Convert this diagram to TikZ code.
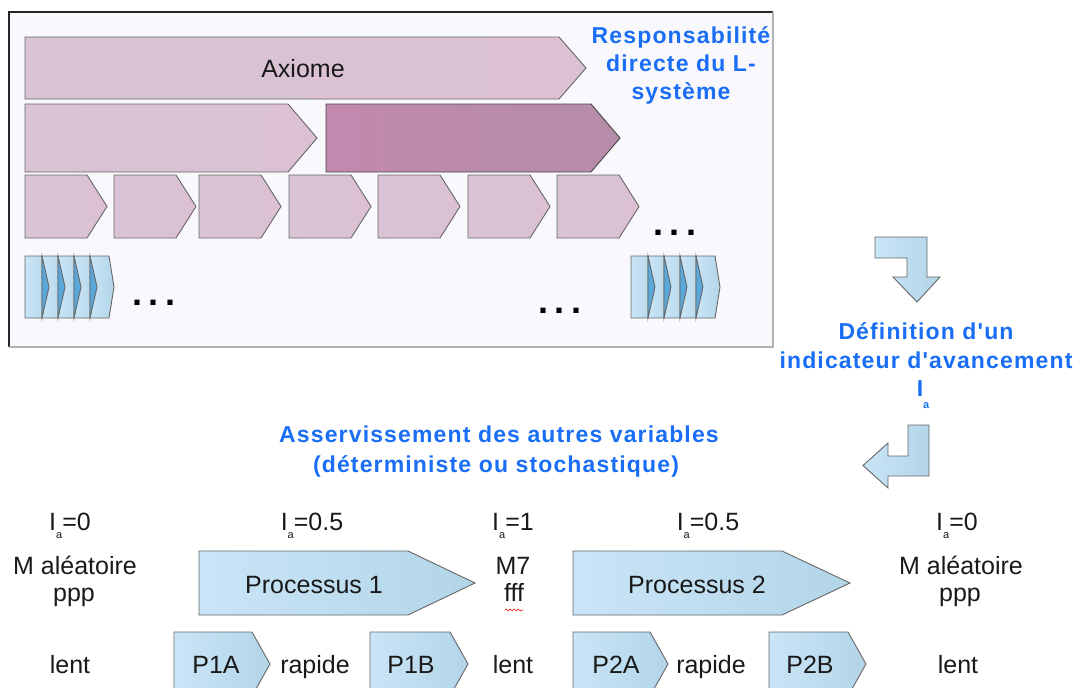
\documentclass[tikz,border=0pt]{standalone}
\usepackage{fontspec}
\setmainfont{Liberation Sans}
\newfontfamily\bluefont[LetterSpace=5]{Liberation Sans}
\usetikzlibrary{decorations.pathmorphing}

\definecolor{mauve}{HTML}{D9C3D5}
\definecolor{mauveR}{HTML}{DCC0D4}
\definecolor{dmauveL}{HTML}{C189AD}
\definecolor{dmauveR}{HTML}{B58CA9}
\definecolor{blueL}{HTML}{C9E5F7}
\definecolor{blueR}{HTML}{B3D5E8}
\definecolor{blueDark}{HTML}{5AA8DA}
\definecolor{txtblue}{RGB}{25,110,245}
\definecolor{edge}{HTML}{666666}
\definecolor{boxfill}{HTML}{F9F9FD}

\tikzset{
  mauvebox/.style={draw=edge, line width=0.9pt, left color=mauve, right color=mauveR},
  darkbox/.style={draw=edge!70!black, line width=0.9pt, left color=dmauveL, right color=dmauveR},
  bluebox/.style={draw=edge, line width=0.9pt, left color=blueL, right color=blueR},
  darktri/.style={draw=edge, line width=0.9pt, fill=blueDark},
  bluetxt/.style={text=txtblue, font=\fontsize{23}{28}\selectfont\bluefont\bfseries, inner sep=0pt, anchor=base},
  blacktxt/.style={text=black!90, font=\fontsize{25}{28}\selectfont, inner sep=0pt, anchor=base},
  dotstxt/.style={font=\fontsize{36}{36}\selectfont\bfseries, inner sep=0pt, anchor=base},
}

% chevron: [style]{left}{top}{bottom}{straight end}{tip}
\newcommand\mychev[6][mauvebox]{\path[#1] (#2,#3) -- (#5,#3) -- (#6,{(#3+#4)/2}) -- (#5,#4) -- (#2,#4) -- cycle;}
\newcommand\bluegroup[1]{%
  \begin{scope}[xshift=#1pt]
    \foreach \s/\e/\t in {0/17/24, 17/33/40, 33/49/56, 49/65/72} {\mychev[bluebox]{\s}{256}{318}{\e}{\t}}
    \mychev[bluebox]{65}{256}{318}{84}{89}
    \foreach \s in {17,33,49,65} {\path[darktri] (\s,256) -- (\s+7,287) -- (\s,318) -- cycle;}
  \end{scope}}
\newcommand\Ia{I\raisebox{-8pt}{\fontsize{11}{11}\selectfont a}}

\begin{document}
\begin{tikzpicture}[x=1pt,y=-1pt]
\useasboundingbox (0,0) rectangle (1085,688);

% top frame
\fill[boxfill] (9,12) rectangle (773,347);
\draw[black!85, line width=1.2pt] (9,347) -- (9,12) -- (773,12);
\draw[black!30, line width=1.2pt] (773,12) -- (773,347) -- (9,347);

% row 1 : axiome
\mychev{25}{37}{99}{559}{586}
\node[blacktxt] (axiome) at (303,77) {Axiome};

% row 2
\mychev{25}{104}{172}{288}{317}
\mychev[darkbox]{326}{104}{172}{591}{620}

% row 3
\foreach \x in {25,114,199,289,378,468,557} {\mychev{\x}{175}{238}{\x+62}{\x+82}}
\node[dotstxt] (dotsA) at (675,235) {.\hspace{6.5pt}.\hspace{6.5pt}.};

% row 4
\bluegroup{25}
\bluegroup{631}
\node[dotstxt] (dotsB) at (154,305) {.\hspace{6.5pt}.\hspace{6.5pt}.};
\node[dotstxt] (dotsC) at (560,313) {.\hspace{6.5pt}.\hspace{6.5pt}.};

% blue labels
\node[bluetxt] (resp1) at (681,43) {Responsabilité};
\node[bluetxt] (resp2) at (681,71) {directe du L-};
\node[bluetxt] (resp3) at (681,99) {système};

\node[bluetxt] (def1) at (926,339) {Définition d'un};
\node[bluetxt] (def2) at (926,368) {indicateur d'avancement};
\node[bluetxt] (def3) at (923,396) {I\raisebox{-12pt}{\fontsize{11}{11}\selectfont a}};

\node[bluetxt] (ass1) at (499,442) {Asservissement des autres variables};
\node[bluetxt] (ass2) at (496,472) {(déterministe ou stochastique)};

% bent arrows
\path[bluebox] (875,237) -- (927,237) -- (927,277) -- (940,277) -- (917,302) -- (893,277) -- (907,277) -- (907,258) -- (875,258) -- cycle;
\path[bluebox] (908,425) -- (929,425) -- (929,476) -- (888,476) -- (888,488) -- (863,465.5) -- (888,443) -- (888,456) -- (908,456) -- cycle;

% bottom: indicators
\node[blacktxt] (ia1) at (70,530) {\Ia=0};
\node[blacktxt] (ia2) at (312,530) {\Ia=0.5};
\node[blacktxt] (ia3) at (513,530) {\Ia=1};
\node[blacktxt] (ia4) at (708,530) {\Ia=0.5};
\node[blacktxt] (ia5) at (957,530) {\Ia=0};

\node[blacktxt] (m1) at (75,574) {M aléatoire};
\node[blacktxt] (ppp1) at (74,601) {ppp};
\node[blacktxt] (m7) at (513,574) {M7};
\node[blacktxt] (fff) at (514,601) {fff};
\draw[red!85!black, line width=0.6pt, decorate, decoration={snake, amplitude=0.9pt, segment length=4pt}] (505,610) -- (523,610);
\node[blacktxt] (m2) at (961,574) {M aléatoire};
\node[blacktxt] (ppp2) at (960,601) {ppp};

% processes
\mychev[bluebox]{199}{551}{615}{408}{475}
\node[blacktxt] (proc1) at (314,593) {Processus 1};
\mychev[bluebox]{573}{551}{615}{782}{850}
\node[blacktxt] (proc2) at (697,593) {Processus 2};

% sub-processes
\mychev[bluebox]{174}{632}{696}{252}{270}
\mychev[bluebox]{370}{632}{696}{450}{468}
\mychev[bluebox]{573}{632}{696}{650}{668}
\mychev[bluebox]{769}{632}{696}{848}{866}
\node[blacktxt] (lent1) at (70,673) {lent};
\node[blacktxt] (p1a) at (216,673) {P1A};
\node[blacktxt] (rap1) at (315,673) {rapide};
\node[blacktxt] (p1b) at (411,673) {P1B};
\node[blacktxt] (lent2) at (513,673) {lent};
\node[blacktxt] (p2a) at (616,673) {P2A};
\node[blacktxt] (rap2) at (711,673) {rapide};
\node[blacktxt] (p2b) at (810,673) {P2B};
\node[blacktxt] (lent3) at (958,673) {lent};
\end{tikzpicture}
\end{document}
